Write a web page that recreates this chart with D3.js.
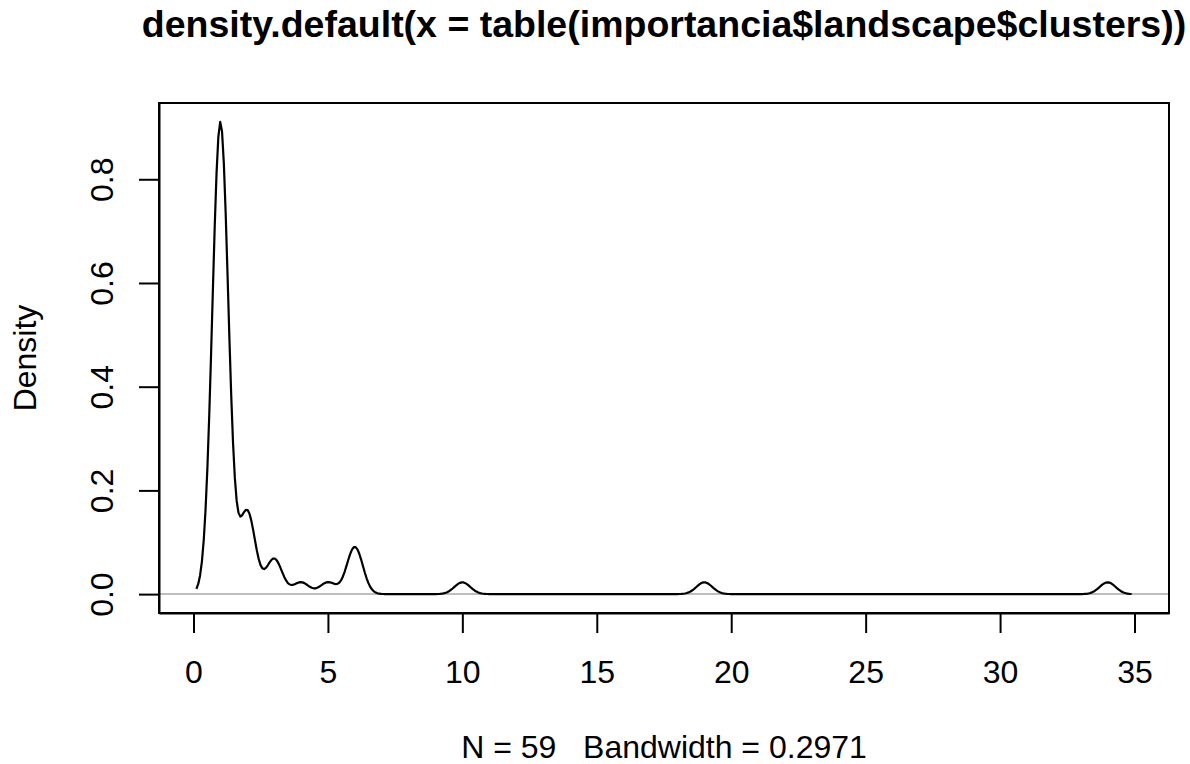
<!DOCTYPE html>
<html lang="en">
<head>
<meta charset="UTF-8">
<title>density.default</title>
<style>
body { margin: 0; background: #fff; }
svg text { font-family: "Liberation Sans", Arial, sans-serif; fill: #000; white-space: pre; }
</style>
</head>
<body>
<script src="https://cdnjs.cloudflare.com/ajax/libs/d3/7.8.5/d3.min.js"></script>
<script>
// observed cluster sizes and how often each occurs (N = 59)
const clusterSizes = [1, 2, 3, 4, 5, 6, 10, 19, 34];
const clusterCounts = [40, 7, 3, 1, 1, 4, 1, 1, 1];
const bandwidth = 0.2971;
const xTicks = [0, 5, 10, 15, 20, 25, 30, 35];
const yTicks = [0, 0.2, 0.4, 0.6, 0.8];
const titleText = "density.default(x = table(importancia$landscape$clusters))";
const subText = "N = 59   Bandwidth = 0.2971";

const W = 1190, H = 764;
const box = { left: 159, right: 1169, top: 103, bottom: 613 };

// gaussian kernel estimate on R's 512 point grid (cut = 3 bandwidths)
const n = d3.sum(clusterCounts);
const lo = d3.min(clusterSizes) - 3 * bandwidth;
const hi = d3.max(clusterSizes) + 3 * bandwidth;
const grid = d3.range(512).map(i => lo + (hi - lo) * i / 511);
const dens = grid.map(x => {
  let s = 0;
  clusterSizes.forEach((v, k) => {
    const u = (x - v) / bandwidth;
    s += clusterCounts[k] * Math.exp(-0.5 * u * u);
  });
  return { x: x, y: s / (n * bandwidth * Math.sqrt(2 * Math.PI)) };
});

const ymax = d3.max(dens, d => d.y);
const xpad = (hi - lo) * 0.04, ypad = ymax * 0.04;
const x = d3.scaleLinear().domain([lo - xpad, hi + xpad]).range([box.left, box.right]);
const y = d3.scaleLinear().domain([-ypad, ymax + ypad]).range([box.bottom, box.top]);

const svg = d3.select("body").append("svg").attr("width", W).attr("height", H);

// zero line
svg.append("line")
  .attr("x1", box.left).attr("x2", box.right)
  .attr("y1", y(0)).attr("y2", y(0))
  .attr("stroke", "#bebebe").attr("stroke-width", 2);

// density curve
svg.append("path")
  .datum(dens)
  .attr("fill", "none").attr("stroke", "#000").attr("stroke-width", 2.2)
  .attr("stroke-linejoin", "round")
  .attr("d", d3.line().x(d => x(d.x)).y(d => y(d.y)));

// axes
const xAxis = svg.append("g")
  .attr("transform", "translate(0," + box.bottom + ")")
  .call(d3.axisBottom(x).tickValues(xTicks).tickSize(20).tickSizeOuter(0).tickFormat(d3.format("d")));
xAxis.selectAll("text").attr("y", 0).attr("dy", 0)
  .attr("transform", "translate(0,70)")
  .style("font-size", "32px");

const yAxis = svg.append("g")
  .attr("transform", "translate(" + box.left + ",0)")
  .call(d3.axisLeft(y).tickValues(yTicks).tickSize(20).tickSizeOuter(0).tickFormat(d => d.toFixed(1)));
yAxis.selectAll(".tick text")
  .attr("x", 0).attr("dy", 0)
  .attr("text-anchor", "middle")
  .attr("transform", "translate(-46,0) rotate(-90)")
  .style("font-size", "32px");

[xAxis, yAxis].forEach(g => {
  g.attr("font-family", null).attr("font-size", null);
  g.selectAll("line, path").attr("stroke", "#000").attr("stroke-width", 2);
});

// plot frame
svg.append("rect")
  .attr("x", box.left).attr("y", box.top)
  .attr("width", box.right - box.left).attr("height", box.bottom - box.top)
  .attr("fill", "none").attr("stroke", "#000").attr("stroke-width", 2);

// titles
const cx = (box.left + box.right) / 2;
svg.append("text")
  .attr("x", cx).attr("y", 37)
  .attr("text-anchor", "middle")
  .style("font-size", "37.5px").style("font-weight", "bold")
  .text(titleText);

svg.append("text")
  .attr("x", cx).attr("y", 758)
  .attr("text-anchor", "middle")
  .attr("xml:space", "preserve")
  .style("font-size", "32px")
  .text(subText);

svg.append("text")
  .attr("transform", "translate(36," + ((box.top + box.bottom) / 2) + ") rotate(-90)")
  .attr("text-anchor", "middle")
  .style("font-size", "32px")
  .text("Density");
</script>
</body>
</html>
